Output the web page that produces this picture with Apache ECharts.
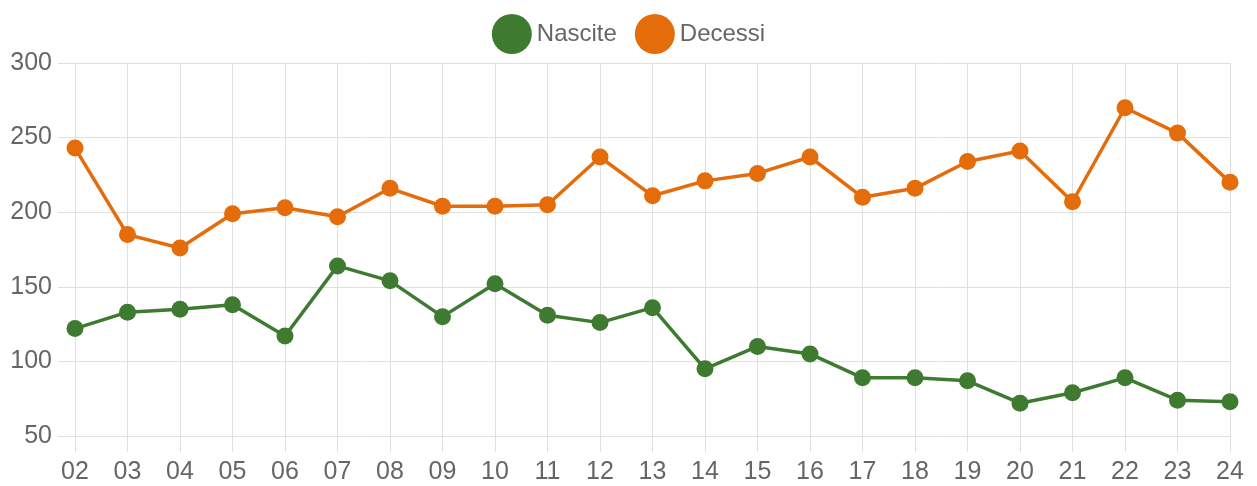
<!DOCTYPE html>
<html>
<head>
<meta charset="utf-8">
<script src="https://cdn.jsdelivr.net/npm/echarts@6/dist/echarts.min.js"></script>
<style>
  html, body { margin: 0; padding: 0; background: #fff; }
  #chart { width: 1257px; height: 486px; }
</style>
</head>
<body>
<div id="chart"></div>
<script>
// anni (etichette asse x)
const years = ['02', '03', '04', '05', '06', '07', '08', '09', '10', '11', '12',
  '13', '14', '15', '16', '17', '18', '19', '20', '21', '22', '23', '24']
const nascite = [122, 133, 135, 138, 117, 164, 154, 130, 152, 131, 126,
  136, 95, 110, 105, 89, 89, 87, 72, 79, 89, 74, 73]
const decessi = [243, 185, 176, 199, 203, 197, 216, 204, 204, 205, 237,
  211, 221, 226, 237, 210, 216, 234, 241, 207, 270, 253, 220]

const font = 'Liberation Sans, Arial, sans-serif'
const gridColor = '#e0e0e0'

const chart = echarts.init(document.getElementById('chart'))
chart.setOption({
  animation: false,
  legend: {
    top: 9,
    left: 'center',
    icon: 'circle',
    itemWidth: 40,
    itemHeight: 40,
    itemGap: 18,
    textStyle: { fontSize: 24, color: '#666', fontFamily: font },
    data: ['Nascite', 'Decessi'],
  },
  grid: { left: 75, right: 27, top: 63, bottom: 50 },
  xAxis: {
    type: 'category',
    boundaryGap: false,
    data: years,
    axisLine: { show: false },
    axisTick: { show: true, length: 16, lineStyle: { color: gridColor } },
    splitLine: { show: true, lineStyle: { color: gridColor } },
    axisLabel: { fontSize: 25, color: '#666', fontFamily: font, margin: 24 },
  },
  yAxis: {
    type: 'value',
    min: 50,
    max: 300,
    interval: 50,
    axisLine: { show: false },
    axisTick: { show: true, length: 17, lineStyle: { color: gridColor } },
    splitLine: { show: true, lineStyle: { color: gridColor } },
    axisLabel: { fontSize: 25, color: '#666', fontFamily: font, margin: 23 },
  },
  series: [
    {
      name: 'Nascite',
      type: 'line',
      data: nascite,
      symbol: 'circle',
      symbolSize: 17,
      color: '#3e7b31',
      lineStyle: { width: 3.5 },
    },
    {
      name: 'Decessi',
      type: 'line',
      data: decessi,
      symbol: 'circle',
      symbolSize: 17,
      color: '#e46c0a',
      lineStyle: { width: 3.5 },
    },
  ],
})
</script>
</body>
</html>
